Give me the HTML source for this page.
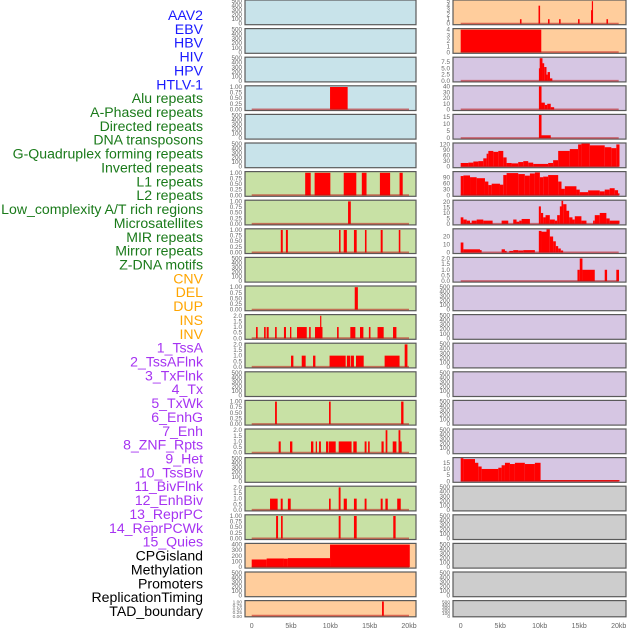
<!DOCTYPE html>
<html><head><meta charset="utf-8"><style>
html,body{margin:0;padding:0;background:#fff;}
svg{display:block;font-family:"Liberation Sans",sans-serif;}
</style></head><body>
<svg id="chart" width="630" height="630" viewBox="0 0 630 630" xmlns="http://www.w3.org/2000/svg"></svg>
<script>
// ---- data ----
const trackLabels = ["AAV2","EBV","HBV","HIV","HPV","HTLV-1","Alu repeats","A-Phased repeats","Directed repeats","DNA transposons","G-Quadruplex forming repeats","Inverted repeats","L1 repeats","L2 repeats","Low_complexity A/T rich regions","Microsatellites","MIR repeats","Mirror repeats","Z-DNA motifs","CNV","DEL","DUP","INS","INV","1_TssA","2_TssAFlnk","3_TxFlnk","4_Tx","5_TxWk","6_EnhG","7_Enh","8_ZNF_Rpts","9_Het","10_TssBiv","11_BivFlnk","12_EnhBiv","13_ReprPC","14_ReprPCWk","15_Quies","CPGisland","Methylation","Promoters","ReplicationTiming","TAD_boundary"];
const labelGroups = ["virus","virus","virus","virus","virus","virus","repeat","repeat","repeat","repeat","repeat","repeat","repeat","repeat","repeat","repeat","repeat","repeat","repeat","sv","sv","sv","sv","sv","chrom","chrom","chrom","chrom","chrom","chrom","chrom","chrom","chrom","chrom","chrom","chrom","chrom","chrom","chrom","other","other","other","other","other"];
const xTickValues = [0,5,10,15,20];
const xTickLabels = ["0","5kb","10kb","15kb","20kb"];
const leftBg = ["blue","blue","blue","blue","blue","blue","green","green","green","green","green","green","green","green","green","green","green","green","green","orange","orange","orange"];
const rightBg = ["orange","orange","purple","purple","purple","purple","purple","purple","purple","purple","purple","purple","purple","purple","purple","purple","purple","grey","grey","grey","grey","grey"];
const ticksEmpty = [0,100,200,300,400,500];
const ticks1 = [0,0.25,0.5,0.75,1.0];
const ticks2 = [0,0.5,1.0,1.5,2.0];
// left column segments [startKb, endKb, value]
const leftRow3 = [[9.96,12.2,1]];
const leftRow6 = [[6.8,7.5,1],[8.0,10.0,1],[11.7,13.3,1],[14.0,14.6,1],[16.3,17.6,1],[18.8,19.2,1]];
const leftRow7 = [[12.25,12.6,1]];
const leftRow8 = [[3.7,3.95,1],[4.35,4.6,1],[11.1,11.3,1],[11.7,12.1,1],[13.0,13.35,1],[14.4,14.6,1],[16.4,16.65,1],[18.7,18.9,1]];
const leftRow10 = [[13.1,13.5,1]];
const leftRow11 = [[0.55,0.76,1],[1.57,1.78,1],[1.9,2.16,1],[2.97,3.18,1],[4.1,4.36,1],[4.87,5.04,1],[5.76,7.0,1],[7.3,7.5,1],[8.05,9.0,1],[8.7,8.85,2],[10.85,11.06,1],[12.54,13.18,1],[13.77,14.2,1],[14.9,15.1,1],[16.0,16.78,1],[17.97,18.4,1]];
const leftRow12 = [[5.0,5.3,1],[6.36,6.86,1],[7.8,8.1,1],[9.9,11.95,1],[12.1,12.5,1],[12.58,13.0,1],[13.26,14.24,1],[16.9,18.8,1],[19.45,19.8,2]];
const leftRow14 = [[2.97,3.2,1],[9.83,10.04,1],[19.0,19.3,1]];
const leftRow15 = [[3.43,3.69,1],[4.87,5.17,1],[7.54,7.84,1],[8.14,8.3,1],[8.56,8.8,1],[9.45,9.75,1],[9.83,10.68,1],[11.06,12.7,1],[12.92,13.35,1],[14.36,14.6,1],[14.8,15.0,1],[16.5,16.78,1],[17.93,18.4,1],[18.7,19.07,1],[17.03,17.25,2],[18.67,18.9,2]];
const leftRow17 = [[2.33,3.3,1],[3.69,3.94,1],[4.6,4.96,1],[9.83,10.04,1],[11.7,12.1,1],[13.0,13.35,1],[14.36,14.6,1],[16.4,16.65,1],[17.0,17.3,1],[18.5,18.95,1],[11.06,11.3,2]];
const leftRow18 = [[3.1,3.35,1],[3.73,3.94,1],[11.06,11.3,1],[13.0,13.35,1],[18.0,18.3,1]];
const leftRow19 = [[0,1.9,135],[1.9,4.1,153],[4.1,4.6,150],[4.6,9.96,159],[9.96,20.1,400]];
const leftRow21 = [[16.57,16.8,1]];
// right column segments
const rightRow0 = [[7.5,7.7,1],[9.85,10.05,4],[11.05,11.25,1],[12.45,12.65,1],[14.85,15.05,1],[16.5,16.7,3],[16.6,16.75,5],[18.45,18.65,1]];
const rightRow1 = [[0,10.2,4]];
const rightRow2 = [[9.9,10.0,5],[10.0,10.35,9],[10.35,10.57,7],[10.57,10.86,5.5],[10.86,11.0,2.5],[11.0,11.3,3.5],[11.3,11.6,1]];
const rightRow3 = [[9.9,10.23,42],[10.23,10.65,12],[10.65,10.95,8],[10.95,11.4,10],[11.4,11.83,4]];
const rightRow4 = [[9.9,10.23,17],[10.23,11.4,2]];
const rightRow5 = [[0,0.97,20],[0.97,1.6,22],[1.6,2.23,28],[2.23,2.86,30],[2.86,3.28,45],[3.28,3.5,70],[3.5,4.13,85],[4.13,4.76,80],[4.76,5.39,85],[5.39,5.81,50],[5.81,6.44,20],[6.44,7.28,18],[7.28,7.92,25],[7.92,8.55,30],[8.55,9.18,22],[9.18,11.07,15],[11.07,11.7,20],[11.7,12.34,35],[12.34,13.81,85],[13.81,14.86,95],[14.86,15.28,120],[15.28,16.34,125],[16.34,18.23,115],[18.23,19.07,105],[19.07,19.7,100],[19.7,20.1,120]];
const rightRow6 = [[0,0.34,98],[0.34,1.18,101],[1.18,2.02,92],[2.02,3.07,87],[3.07,3.5,70],[3.5,3.92,52],[3.92,4.97,59],[4.97,5.39,54],[5.39,5.81,103],[5.81,7.28,113],[7.28,8.12,108],[8.12,8.76,100],[8.76,9.39,111],[9.39,10.02,116],[10.02,10.44,92],[10.44,11.07,95],[11.07,12.34,103],[12.34,12.76,70],[12.76,13.18,33],[13.18,14.65,46],[14.65,15.07,29],[15.07,16.13,16],[16.13,17.6,25],[17.6,18.23,20],[18.23,18.86,29],[18.86,19.49,36],[19.49,19.92,26],[19.92,20.1,10]];
const rightRow7 = [[0,0.34,6],[0.34,0.76,4],[0.76,1.18,3],[1.18,1.39,1],[1.39,2.02,3],[2.02,2.86,4],[2.86,4.04,3],[5.18,6.02,3],[6.65,7.07,4],[7.07,7.41,2],[7.41,7.71,3],[7.71,8.76,4.5],[9.89,10.15,16],[10.15,10.44,10],[10.44,10.74,6],[10.74,11.28,8],[11.28,11.92,4],[11.92,12.21,3],[12.21,12.55,8],[12.55,12.76,16],[12.76,12.97,22],[12.97,13.39,18],[13.39,13.73,12],[13.73,14.15,6],[14.15,14.44,4],[14.44,15.28,7],[15.28,15.92,3],[16.76,16.97,3],[16.97,17.6,8],[17.6,18.44,10],[18.44,18.86,5],[18.86,20.1,3]];
const rightRow8 = [[0,0.34,12.5],[0.34,2.44,4],[2.44,2.65,3],[5.18,5.6,4],[5.6,5.81,2],[6.15,6.65,2],[6.65,7.28,3],[7.28,7.92,2.5],[7.92,9.39,3],[9.89,10.23,27],[10.23,10.86,26],[10.86,11.28,29],[11.28,11.7,20],[11.7,12.04,14],[12.04,12.34,8],[12.34,12.67,5],[12.67,12.97,2.5]];
const rightRow9 = [[14.78,15.07,1],[15.07,15.41,2],[15.41,16.97,1],[18.23,18.53,1],[19.7,20.04,1]];
const rightRow16 = [[0,0.34,19],[0.34,1.81,18],[1.81,2.23,15],[2.23,2.65,12],[2.65,4.76,10],[4.76,5.18,11],[5.18,5.6,13],[5.6,6.23,15],[6.23,6.86,14],[6.86,8.12,15],[8.12,9.39,14],[9.39,10.11,15],[10.11,20.1,1]];

const leftPanels = {3:[leftRow3,ticks1,1.03],6:[leftRow6,ticks1,1.03],7:[leftRow7,ticks1,1.03],8:[leftRow8,ticks1,1.03],10:[leftRow10,ticks1,1.03],11:[leftRow11,ticks2,2.06],12:[leftRow12,ticks2,2.06],14:[leftRow14,ticks1,1.03],15:[leftRow15,ticks2,2.06],17:[leftRow17,ticks2,2.06],18:[leftRow18,ticks1,1.03],19:[leftRow19,[0,100,200,300,400],412],21:[leftRow21,ticks1,1.03]};
const rightPanels = {0:[rightRow0,[0,1,2,3,4,5],5.15],1:[rightRow1,[0,1,2,3,4],4.1],2:[rightRow2,[0,2.5,5,7.5],9.2],3:[rightRow3,[0,10,20,30,40],40.5],4:[rightRow4,[0,5,10,15],16.4],5:[rightRow5,[0,30,60,90,120],125],6:[rightRow6,[0,30,60,90],118],7:[rightRow7,[0,5,10,15,20],21.2],8:[rightRow8,[0,10,20],29],9:[rightRow9,ticks2,2.05],16:[rightRow16,[0,5,10,15],18.8]};

// ---- drawing ----
const NS="http://www.w3.org/2000/svg";
const svg=document.getElementById('chart');
function mk(tag,attrs,parent){const e=document.createElementNS(NS,tag);for(const k in attrs)e.setAttribute(k,attrs[k]);(parent||svg).appendChild(e);return e;}
const bgColor={blue:"#c8e3ea",green:"#c8e1a5",orange:"#ffcd9c",purple:"#d6c6e3",grey:"#cdcdcd"};
const labelColor={virus:"#1a1aff",repeat:"#1a7a1a",sv:"#ffa500",chrom:"#a633f2",other:"#000000"};
const cols=[{x0:245,x1:416,k0:251.7,k1:409,bg:leftBg,panels:leftPanels,side:'left'},{x0:453,x1:626,k0:460.7,k1:618.7,bg:rightBg,panels:rightPanels,side:'right'}];
function rowTop(i){return i*28.6;}
function rowH(i){return i<21?24.7:16.2;}
function fmt(t,ticks){const mx=Math.max(...ticks);if(mx<=1.01)return t.toFixed(2);if(mx<=2.01||ticks.includes(2.5))return t.toFixed(1);return String(t);}

// labels
trackLabels.forEach((lab,i)=>{
  const t=mk('text',{x:203,y:15+i*13.86+5,'text-anchor':'end','font-size':'14.1px',fill:labelColor[labelGroups[i]]});
  
  
  t.textContent=lab;
});

cols.forEach(c=>{
  const xs=kb=>c.k0+(kb/20)*(c.k1-c.k0);
  for(let i=0;i<22;i++){
    const top=rowTop(i),h=rowH(i),bot=top+h;
    const g=mk('g',{});
    
    
    const r=mk('rect',{x:c.x0,y:top,width:c.x1-c.x0,height:h,fill:bgColor[c.bg[i]],stroke:'#5a5a5a','stroke-width':1.2},g);
    
    
    const p=c.panels[i];
    const ticks=p?p[1]:ticksEmpty;
    const ymax=p?p[2]:500*1.02;
    const ys=v=>bot-1-(v/ymax)*(h-1.5);
    ticks.forEach(t=>{
      const tt=mk('text',{x:c.x0-3,y:ys(t)+2,'text-anchor':'end','font-size':i<21?'6.3px':'4.8px',fill:'#666'},g);
      
      
      tt.textContent=fmt(t,ticks);
    });
    if(p){
      const segs=p[0];
      segs.forEach(s=>{
        const x1=xs(s[0]),x2=Math.max(xs(s[1]),x1+1.2);
        const yt=Math.max(ys(s[2]),top+0.6);
        const b=mk('rect',{x:x1,y:yt,width:x2-x1,height:(bot-1)-yt,fill:'#ff0000'},g);
        
        
      });
      const bl=mk('line',{x1:xs(0),x2:xs(20),y1:bot-1.2,y2:bot-1.2,stroke:'rgba(190,20,20,0.55)','stroke-width':1.6},g);
      
      
    }
  }
  xTickValues.forEach((v,j)=>{
    const t=mk('text',{x:xs(v),y:628,'text-anchor':'middle','font-size':'7px',fill:'#666'});
    
    
    t.textContent=xTickLabels[j];
  });
});
</script>
</body></html>
